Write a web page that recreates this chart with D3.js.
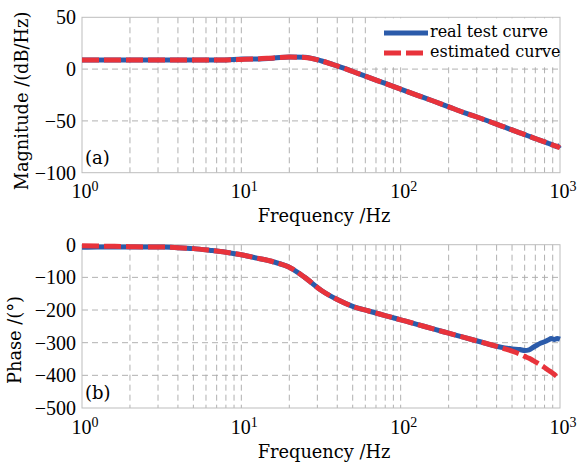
<!DOCTYPE html>
<html>
<head>
<meta charset="utf-8">
<script src="https://cdn.jsdelivr.net/npm/d3@7"></script>
<style>
  html, body { margin: 0; padding: 0; background: #ffffff; }
  svg { display: block; }
</style>
</head>
<body>
<div id="chart"></div>
<script>
// values
var freq = [1, 1.25, 1.6, 2, 2.5, 3.2, 4, 5, 6.3, 8, 10, 12.5, 16, 20, 25, 32, 40, 50, 63, 80,
  100, 125, 160, 200, 250, 320, 400, 450, 500, 560, 600, 640, 680, 720, 760, 800, 850, 880, 920, 960, 1000];

var magReal = [8.8, 8.8, 8.8, 8.8, 8.8, 8.8, 8.8, 8.8, 8.8, 8.8, 9.7, 9.8, 10.6, 11.8, 11.4, 7.8, 3.0, -2.3, -8.0, -13.8,
  -19.3, -24.9, -30.8, -36.4, -42.0, -47.7, -53.2, -56.1, -58.7, -61.5, -63.2, -64.8, -66.3, -67.7, -69.0, -70.3, -71.8, -72.7, -73.8, -75.0, -73.4];
var magEst = [8.8, 8.8, 8.8, 8.8, 8.8, 8.8, 8.8, 8.8, 8.8, 8.9, 9.3, 9.8, 10.8, 11.6, 11.2, 7.8, 3.0, -2.3, -8.0, -13.8,
  -19.3, -24.9, -30.8, -36.4, -42.0, -47.7, -53.2, -56.1, -58.7, -61.5, -63.2, -64.8, -66.3, -67.7, -69.0, -70.3, -71.8, -72.7, -73.8, -74.8, -75.9];

var phaseReal = [-8, -7, -7, -7, -7, -7, -9, -12, -17, -23, -31, -41, -53, -69, -100, -141, -168, -189, -203, -217,
  -230, -243, -258, -271, -284, -298, -311, -316, -319, -321, -324, -322, -314, -307, -301, -297, -291, -287, -290, -287, -289];
var phaseEst = [-3, -4, -5, -6, -7, -7, -9, -12, -17, -23, -31, -41, -53, -69, -100, -141, -168, -189, -203, -217,
  -230, -243, -258, -271, -284, -298, -311, -319, -326, -335, -342, -348, -355, -362, -369, -376, -385, -390, -397, -404, -410];

var xTicks = [1, 10, 100, 1000];
var magTicks = [50, 0, -50, -100];
var phaseTicks = [0, -100, -200, -300, -400, -500];
var seriesNames = ["real test curve", "estimated curve"];

var width = 580, height = 465;
var blue = "#2b5baa", red = "#e8333b";
var gridColor = "#a8a8a8";
var numFont = "Liberation Serif", textFont = "DejaVu Serif";

var svg = d3.select("#chart").append("svg")
    .attr("width", width)
    .attr("height", height);

var x = d3.scaleLog().domain([1, 1000]).range([82, 560]);

function drawPanel(p) {
  var y = d3.scaleLinear().domain(p.domain).range([p.bottom, p.top]);
  var g = svg.append("g");

  // minor + major vertical grid
  var vLines = [];
  [1, 10, 100].forEach(function(dec) {
    for (var k = 2; k <= 10; k++) vLines.push(dec * k);
  });
  vLines = vLines.filter(function(v) { return v < 1000; });

  g.selectAll(".vgrid")
    .data(vLines)
   .enter()
    .append("line")
    .attr("x1", function(d) { return x(d); })
    .attr("x2", function(d) { return x(d); })
    .attr("y1", p.top)
    .attr("y2", p.bottom)
    .style("stroke", gridColor)
    .style("stroke-width", 0.9)
    .style("stroke-dasharray", "6,4");

  g.selectAll(".hgrid")
    .data(p.ticks.slice(1, -1))
   .enter()
    .append("line")
    .attr("x1", x(1))
    .attr("x2", x(1000))
    .attr("y1", function(d) { return y(d); })
    .attr("y2", function(d) { return y(d); })
    .style("stroke", gridColor)
    .style("stroke-width", 0.9)
    .style("stroke-dasharray", "6,4");

  g.append("rect")
    .attr("x", x(1))
    .attr("y", p.top)
    .attr("width", x(1000) - x(1))
    .attr("height", p.bottom - p.top)
    .style("fill", "none")
    .style("stroke", "#bdbdbd")
    .style("stroke-width", 1);

  if (p.legend) {
    var lg = g.append("g");
    lg.append("rect")
      .attr("x", 374).attr("y", p.top + 1)
      .attr("width", x(1000) - 375).attr("height", 48)
      .style("fill", "#ffffff");
    var rows = [
      { name: seriesNames[0], color: blue, dash: null, y: 33 },
      { name: seriesNames[1], color: red, dash: "17,5", y: 53 }
    ];
    rows.forEach(function(r) {
      lg.append("line")
        .attr("x1", 384).attr("x2", 428)
        .attr("y1", r.y).attr("y2", r.y)
        .style("stroke", r.color)
        .style("stroke-width", 5)
        .style("stroke-dasharray", r.dash);
      lg.append("text")
        .attr("x", 430).attr("y", r.y + 4)
        .text(r.name)
        .style("font-family", textFont)
        .style("font-size", "16px")
        .style("fill", "#000");
    });
  }

  var data = freq.map(function(f, i) { return { f: f, real: p.real[i], est: p.est[i] }; });

  var lineReal = d3.line()
    .x(function(d) { return x(d.f); })
    .y(function(d) { return y(d.real); })
    .curve(d3.curveMonotoneX);
  var lineEst = d3.line()
    .x(function(d) { return x(d.f); })
    .y(function(d) { return y(d.est); })
    .curve(d3.curveMonotoneX);

  g.append("path")
    .datum(data)
    .attr("d", lineReal)
    .style("fill", "none")
    .style("stroke", blue)
    .style("stroke-width", 5);

  g.append("path")
    .datum(data)
    .attr("d", lineEst)
    .style("fill", "none")
    .style("stroke", red)
    .style("stroke-width", 5)
    .style("stroke-dasharray", "17,5");

  // y tick labels
  g.selectAll(".ylab")
    .data(p.ticks)
   .enter()
    .append("text")
    .attr("x", 76)
    .attr("y", function(d) { return y(d) + 7; })
    .attr("text-anchor", "end")
    .text(function(d) { return d3.format("d")(d); })
    .style("font-family", numFont)
    .style("font-size", "20px")
    .style("fill", "#000");

  // x tick labels 10^n
  var xl = g.selectAll(".xlab")
    .data(xTicks)
   .enter()
    .append("text")
    .attr("x", function(d) { return x(d) + 3; })
    .attr("y", p.bottom + 25.5)
    .attr("text-anchor", "middle")
    .style("font-family", numFont)
    .style("font-size", "20px")
    .style("fill", "#000");
  xl.append("tspan").text("10");
  xl.append("tspan")
    .attr("dy", -7)
    .style("font-size", "14px")
    .text(function(d) { return Math.round(Math.log10(d)); });

  g.append("text")
    .attr("x", 324)
    .attr("y", p.bottom + 49.5)
    .attr("text-anchor", "middle")
    .text("Frequency /Hz")
    .style("font-family", textFont)
    .style("font-size", "17.8px")
    .style("fill", "#000");

  g.append("text")
    .attr("transform", "translate(" + p.labelX + "," + p.labelY + ") rotate(-90)")
    .attr("text-anchor", "middle")
    .text(p.label)
    .style("font-family", textFont)
    .style("font-size", "17.8px")
    .style("fill", "#000");

  g.append("text")
    .attr("x", 85)
    .attr("y", p.bottom - 9)
    .text(p.tag)
    .style("font-family", textFont)
    .style("font-size", "18px")
    .style("fill", "#000");
}

drawPanel({ top: 17.3, bottom: 172.7, domain: [-100, 50], ticks: magTicks,
  real: magReal, est: magEst, label: "Magnitude /(dB/Hz)", labelX: 28, labelY: 101,
  tag: "(a)", legend: true });

drawPanel({ top: 244.7, bottom: 408, domain: [-500, 0], ticks: phaseTicks,
  real: phaseReal, est: phaseEst, label: "Phase /(°)", labelX: 21, labelY: 340,
  tag: "(b)", legend: false });
</script>
</body>
</html>
